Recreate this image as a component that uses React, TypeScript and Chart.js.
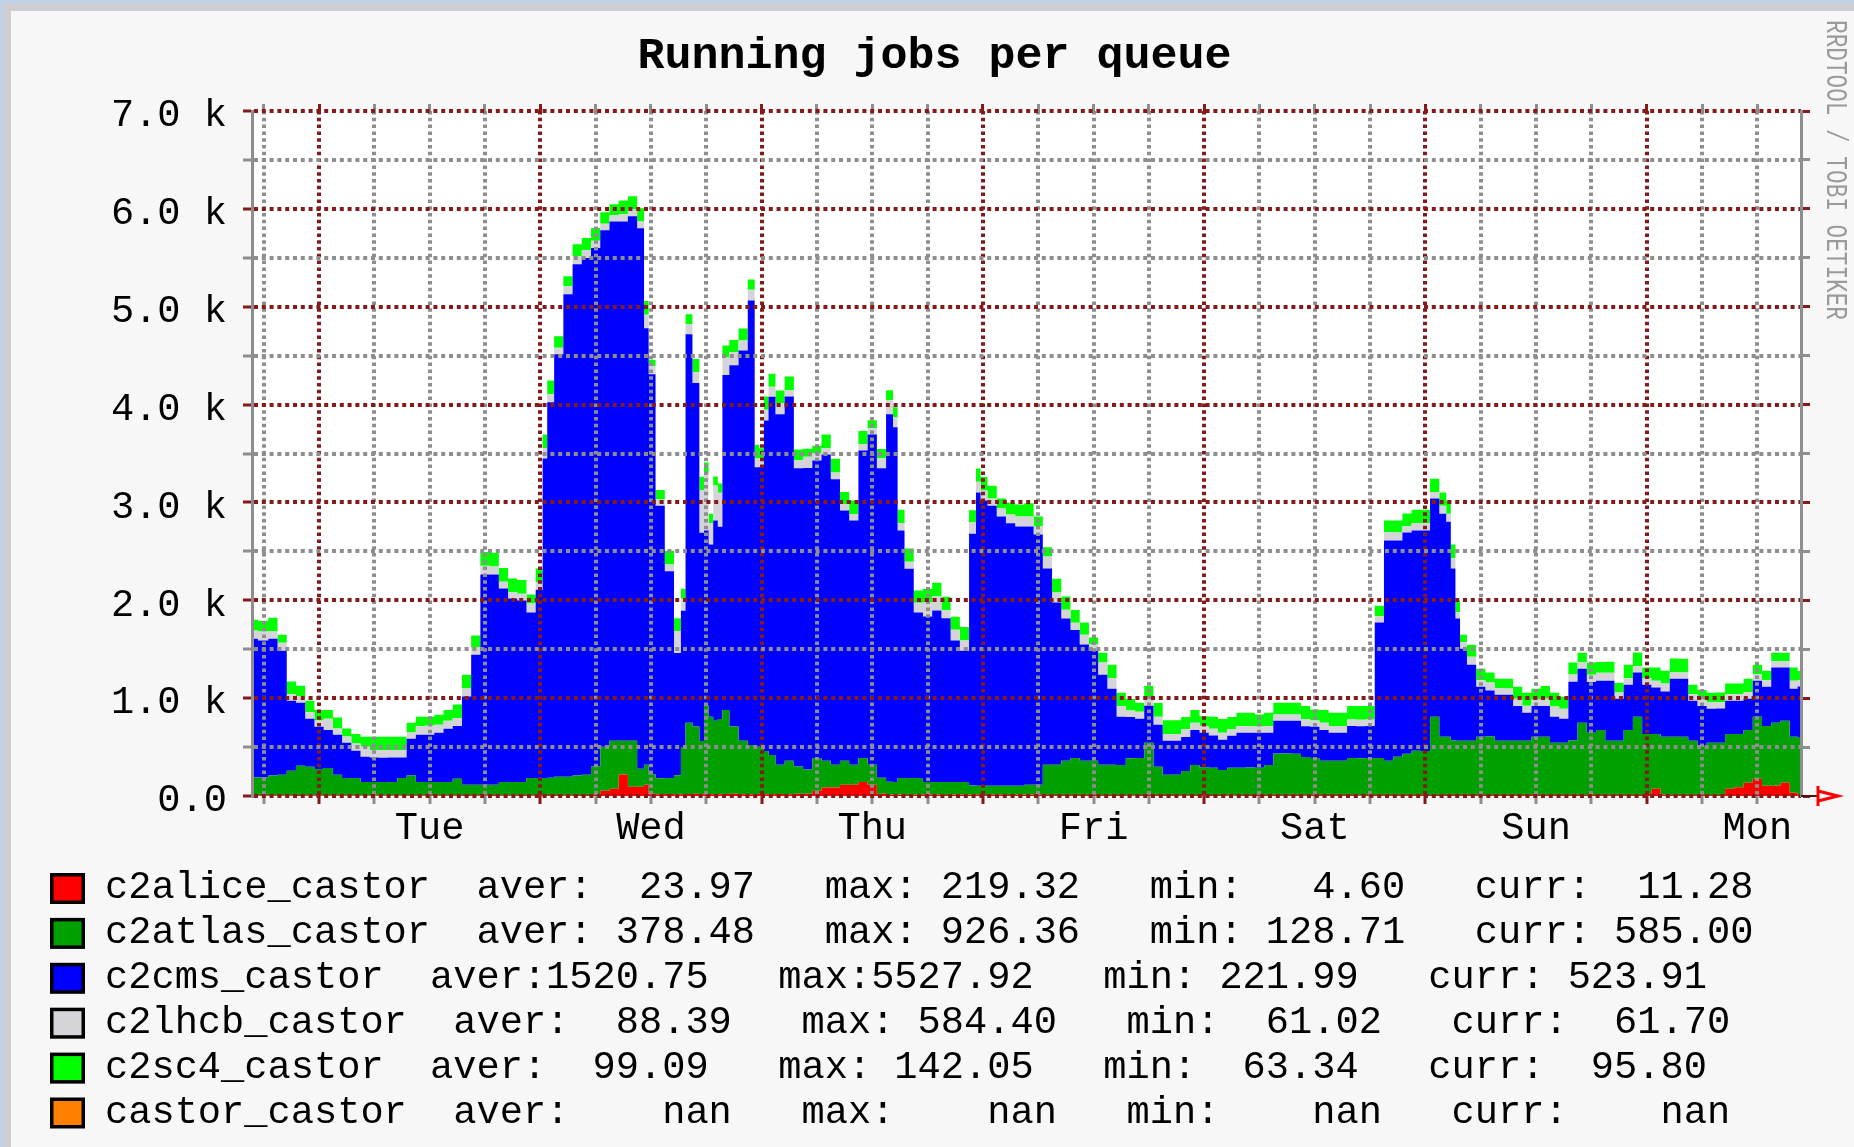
import React, { useEffect, useRef } from 'react';
import { Chart, registerables } from 'chart.js';

Chart.register(...registerables);

const W = 1854;
const H = 1147;

const TITLE = 'Running jobs per queue';
const WATERMARK = 'RRDTOOL / TOBI OETIKER';

// hours relative to Tuesday 00:00
const hours = [
  -7.27, -6, -5, -4, -3, -2, -1, 0, 1, 2,
  3, 4, 5, 6, 7, 8, 9, 10, 11, 12,
  13, 14, 15, 16, 17, 18, 19, 20, 21, 22,
  23, 24, 24.5, 25, 26, 27, 28, 29, 30, 31,
  32, 33, 34, 35, 35.5, 36, 37, 38, 39, 39.5,
  40, 41, 41.5, 42, 42.5, 43, 43.5, 44, 45, 46,
  47, 47.5, 48, 48.5, 49, 50, 51, 52, 53, 54,
  55, 56, 57, 58, 59, 60, 61, 62, 62.5, 63,
  64, 65, 66, 67, 68, 69, 70, 71, 71.5, 72,
  73, 74, 75, 76, 77, 78, 79, 80, 81, 82,
  83, 84, 85, 86, 87, 88, 89, 90, 91, 92,
  93, 94, 95, 96, 97, 98, 99, 100, 101, 102,
  103, 104, 105, 106, 107, 108, 109, 110, 111, 112,
  113, 114, 115, 116, 117, 118, 119, 120, 121, 122,
  122.5, 123, 123.5, 124, 125, 126, 127, 128, 129, 130,
  131, 132, 133, 134, 135, 136, 137, 138, 139, 140,
  141, 142, 143, 144, 145, 146, 147, 148, 149, 150,
  151, 152, 153, 154, 155, 156, 157, 158, 159, 160,
  160.73,
];

const c2alice = [
  8, 8, 7, 7, 8, 9, 8, 7, 8, 8,
  7, 8, 6, 6, 5, 6, 6, 7, 7, 8,
  7, 7, 8, 9, 8, 8, 9, 8, 8, 9,
  8, 9, 8, 10, 9, 8, 9, 9, 12, 53,
  74, 219, 94, 94, 115, 22, 18, 20, 16, 18,
  20, 22, 18, 20, 19, 21, 18, 20, 22, 19,
  18, 20, 22, 18, 17, 20, 19, 22, 24, 53,
  86, 86, 115, 115, 143, 115, 22, 14, 12, 12,
  11, 12, 13, 12, 11, 12, 12, 13, 12, 11,
  12, 12, 11, 12, 13, 12, 10, 11, 10, 9,
  10, 9, 10, 10, 9, 8, 9, 10, 10, 9,
  9, 8, 9, 10, 9, 9, 8, 9, 10, 9,
  9, 10, 10, 9, 8, 9, 9, 10, 9, 9,
  8, 9, 10, 11, 10, 9, 10, 9, 11, 10,
  10, 11, 10, 9, 9, 10, 11, 10, 9, 9,
  10, 9, 9, 10, 9, 11, 10, 10, 9, 10,
  9, 10, 11, 20, 74, 12, 10, 9, 10, 9,
  10, 11, 74, 90, 135, 176, 106, 106, 135, 33,
  11.28,
];

const c2atlas = [
  180, 180, 202, 210, 250, 299, 291, 270, 278, 209,
  176, 176, 137, 137, 137, 137, 178, 202, 136, 136,
  136, 136, 168, 107, 107, 107, 107, 135, 135, 135,
  176, 176, 176, 176, 188, 188, 200, 209, 289, 450,
  491, 346, 471, 184, 204, 197, 164, 164, 197, 483,
  729, 688, 545, 906, 790, 749, 770, 860, 688, 545,
  504, 483, 483, 442, 401, 299, 340, 279, 246, 336,
  274, 233, 245, 204, 246, 204, 164, 131, 131, 172,
  172, 172, 131, 131, 131, 131, 131, 94, 94, 94,
  94, 94, 94, 94, 103, 103, 309, 309, 350, 379,
  350, 350, 309, 309, 309, 379, 379, 534, 289, 207,
  207, 248, 309, 280, 280, 256, 280, 280, 280, 280,
  309, 424, 424, 424, 391, 379, 350, 350, 350, 379,
  379, 379, 379, 350, 391, 424, 452, 452, 800, 596,
  596, 555, 555, 555, 555, 596, 596, 555, 555, 555,
  555, 596, 596, 534, 534, 555, 739, 637, 665, 555,
  555, 665, 800, 614, 560, 594, 596, 596, 555, 501,
  534, 534, 560, 544, 540, 634, 610, 643, 634, 573,
  585,
];

const c2cms = [
  1420, 1400, 1399, 1268, 716, 646, 491, 430, 389, 409,
  360, 278, 258, 250, 250, 250, 209, 376, 483, 483,
  504, 544, 540, 900, 1329, 2148, 2148, 1977, 1874, 1854,
  1690, 1923, 3266, 3838, 4318, 4931, 5225, 5279, 5299, 5279,
  5307, 5307, 5360, 5525, 4460, 4092, 2783, 2112, 1248, 1392,
  3969, 3511, 2128, 1787, 1760, 2046, 1964, 3421, 3691, 3989,
  4542, 2857, 2857, 3376, 3663, 3581, 3724, 3048, 3081, 3040,
  3130, 2918, 2558, 2496, 3142, 3376, 3163, 3757, 3626, 2529,
  2140, 1690, 1690, 1752, 1675, 1445, 1342, 2574, 2996, 2914,
  2861, 2750, 2681, 2648, 2639, 2557, 2005, 1657, 1453, 1309,
  1187, 1125, 921, 778, 491, 421, 401, 377, 429, 348,
  348, 348, 356, 357, 328, 311, 328, 357, 357, 357,
  328, 335, 335, 335, 315, 319, 315, 287, 287, 327,
  327, 327, 1383, 2251, 2210, 2259, 2251, 2251, 2230, 2279,
  2197, 1759, 1248, 941, 777, 511, 470, 470, 470, 356,
  286, 315, 315, 266, 246, 601, 552, 519, 503, 613,
  429, 463, 450, 504, 475, 462, 593, 593, 409, 410,
  348, 348, 340, 340, 319, 368, 401, 565, 545, 491,
  523.91,
];

const c2lhcb = [
  82, 94, 74, 82, 65, 65, 65, 65, 115, 65,
  65, 74, 102, 77, 77, 77, 77, 65, 90, 90,
  81, 82, 80, 82, 74, 90, 82, 69, 65, 69,
  94, 80, 105, 82, 65, 82, 82, 81, 74, 65,
  65, 74, 70, 69, 140, 82, 65, 69, 225, 122,
  102, 110, 437, 584, 217, 356, 348, 180, 135, 103,
  110, 90, 90, 111, 102, 114, 65, 82, 115, 70,
  65, 69, 65, 65, 65, 65, 103, 143, 98, 74,
  70, 102, 143, 143, 80, 110, 103, 115, 110, 102,
  73, 82, 90, 102, 102, 82, 123, 103, 90, 74,
  102, 65, 123, 110, 111, 65, 73, 73, 82, 69,
  69, 81, 74, 65, 69, 70, 69, 69, 69, 65,
  69, 65, 65, 65, 74, 65, 74, 69, 69, 66,
  66, 66, 65, 82, 82, 65, 74, 74, 65, 82,
  82, 105, 65, 65, 82, 65, 82, 65, 65, 73,
  70, 65, 73, 105, 102, 74, 65, 74, 82, 82,
  65, 69, 65, 65, 69, 82, 65, 65, 65, 65,
  65, 65, 65, 65, 65, 65, 65, 65, 65, 81,
  61.7,
];

const c2sc4 = [
  110, 110, 140, 82, 131, 107, 118, 107, 90, 111,
  81, 98, 103, 136, 136, 136, 136, 99, 94, 94,
  103, 111, 140, 140, 123, 140, 140, 140, 140, 140,
  90, 137, 140, 140, 119, 102, 123, 123, 131, 118,
  111, 140, 135, 135, 140, 65, 98, 140, 131, 103,
  103, 135, 135, 110, 98, 94, 94, 122, 123, 122,
  103, 140, 102, 135, 131, 131, 140, 111, 82, 80,
  140, 140, 123, 140, 135, 80, 94, 102, 106, 139,
  135, 123, 140, 140, 140, 135, 140, 123, 135, 140,
  131, 102, 122, 123, 135, 102, 94, 140, 135, 131,
  123, 70, 102, 135, 135, 119, 90, 131, 140, 140,
  140, 123, 131, 102, 123, 140, 123, 135, 135, 123,
  135, 119, 119, 119, 131, 111, 131, 135, 135, 139,
  139, 139, 107, 122, 122, 131, 139, 139, 135, 135,
  135, 140, 119, 78, 123, 119, 102, 99, 99, 123,
  135, 111, 131, 140, 123, 123, 99, 123, 111, 111,
  99, 135, 140, 111, 136, 131, 140, 140, 99, 98,
  99, 99, 111, 111, 140, 99, 99, 86, 86, 135,
  95.8,
];

const seriesNames = ['c2alice_castor', 'c2atlas_castor', 'c2cms_castor', 'c2lhcb_castor', 'c2sc4_castor', 'castor_castor'];
const seriesColors = ['#ff0000', '#00a000', '#0000ff', '#d5d4d8', '#00ff00', '#ff8000'];
const statAver = [23.97, 378.48, 1520.75, 88.39, 99.09, NaN];
const statMax = [219.32, 926.36, 5527.92, 584.40, 142.05, NaN];
const statMin = [4.60, 128.71, 221.99, 61.02, 63.34, NaN];
const statCurr = [11.28, 585.00, 523.91, 61.70, 95.80, NaN];

const dayLabels = ['Tue', 'Wed', 'Thu', 'Fri', 'Sat', 'Sun', 'Mon'];
const xMin = -7.27;
const xMax = 160.73;
const yMax = 7000;

const MAJOR = '#841a1a';
const MINOR = '#8e8e8e';
const AXIS = '#8e8e8e';
const MONO = '"Liberation Mono", "DejaVu Sans Mono", monospace';

function fmt(v: number) {
  const s = isNaN(v) ? 'nan' : v.toFixed(2);
  return s.padStart(7, ' ');
}

function legendLine(i: number) {
  return (
    seriesNames[i] +
    '  aver:' + fmt(statAver[i]) +
    '   max:' + fmt(statMax[i]) +
    '   min:' + fmt(statMin[i]) +
    '   curr:' + fmt(statCurr[i])
  );
}

const xTickHours: number[] = [];
for (let h = -6; h <= 156; h += 6) xTickHours.push(h);

const isDay = (v: number) => ((v % 24) + 24) % 24 === 0;

const decor = {
  id: 'rrdDecor',
  beforeDraw(chart: any) {
    const { ctx, chartArea: a } = chart;
    ctx.save();
    ctx.fillStyle = '#f7f7f7';
    ctx.fillRect(0, 0, W, H);
    ctx.fillStyle = '#cecdd1';
    ctx.fillRect(0, 0, W, 11);
    ctx.fillRect(0, 0, 11, H);
    ctx.fillStyle = '#bed3ea';
    ctx.fillRect(0, 0, W, 3);
    ctx.fillRect(0, 0, 3, H);
    ctx.fillStyle = '#ffffff';
    ctx.fillRect(a.left, a.top, a.right - a.left, a.bottom - a.top);
    ctx.restore();
  },
  afterDraw(chart: any) {
    const { ctx, chartArea: a } = chart;
    ctx.save();
    // title
    ctx.fillStyle = '#000';
    ctx.font = 'bold 45px ' + MONO;
    ctx.textAlign = 'center';
    ctx.textBaseline = 'alphabetic';
    ctx.fillText(TITLE, 934.5, 68);

    // legend
    ctx.textAlign = 'left';
    ctx.font = '38.7px ' + MONO;
    for (let i = 0; i < seriesNames.length; i++) {
      const base = 898 + i * 44.9;
      ctx.fillStyle = '#000';
      ctx.fillRect(50, base - 25, 35, 31);
      ctx.fillStyle = seriesColors[i];
      ctx.fillRect(53.5, base - 21.5, 28, 24);
      ctx.fillStyle = '#000';
      ctx.fillText(legendLine(i), 105, base);
    }

    // x-axis arrow
    const y0 = a.bottom;
    const xr = a.right;
    ctx.strokeStyle = '#4a1414';
    ctx.lineWidth = 2;
    ctx.beginPath();
    ctx.moveTo(xr, y0);
    ctx.lineTo(xr + 16, y0);
    ctx.stroke();
    ctx.strokeStyle = '#ff0000';
    ctx.lineWidth = 3;
    ctx.beginPath();
    ctx.moveTo(xr + 17, y0 - 10);
    ctx.lineTo(xr + 17, y0 + 10);
    ctx.moveTo(xr + 17, y0 - 5);
    ctx.lineTo(xr + 37, y0);
    ctx.lineTo(xr + 17, y0 + 5);
    ctx.stroke();

    // watermark
    ctx.translate(1827, 20);
    ctx.rotate(Math.PI / 2);
    ctx.font = '30px ' + MONO;
    const tw = ctx.measureText(WATERMARK).width;
    ctx.scale(300 / tw, 1);
    ctx.fillStyle = '#9a9a9a';
    ctx.textAlign = 'left';
    ctx.textBaseline = 'alphabetic';
    ctx.fillText(WATERMARK, 0, 0);
    ctx.restore();
  },
};

export default function App() {
  const ref = useRef<HTMLCanvasElement>(null);

  useEffect(() => {
    const canvas = ref.current;
    if (!canvas) return;
    Chart.defaults.font.family = MONO;
    const series = [c2alice, c2atlas, c2cms, c2lhcb, c2sc4];
    const datasets = series.map((vals, i) => ({
      label: seriesNames[i],
      data: hours.map((h, j) => ({ x: h, y: vals[j] })),
      backgroundColor: seriesColors[i],
      borderColor: 'transparent',
      borderWidth: 0,
      pointRadius: 0,
      fill: i === 0 ? 'origin' : '-1',
      stepped: 'middle' as const,
      xAxisID: 'x',
      yAxisID: 'y',
    }));

    const tickFont = { family: MONO, size: 38.7 };

    const chart = new Chart(canvas, {
      type: 'line',
      data: { datasets: datasets as any },
      options: {
        responsive: false,
        animation: false,
        devicePixelRatio: 1,
        events: [],
        layout: { padding: { top: 104, left: 0, right: 0, bottom: 0 } },
        plugins: {
          legend: { display: false },
          title: { display: false },
          tooltip: { enabled: false },
        },
        scales: {
          x: {
            type: 'linear',
            min: xMin,
            max: xMax,
            afterBuildTicks: (s: any) => {
              s.ticks = xTickHours.map((v) => ({ value: v }));
            },
            afterFit: (s: any) => {
              s.height = H - 796;
            },
            ticks: {
              autoSkip: false,
              maxRotation: 0,
              minRotation: 0,
              padding: 2,
              color: '#000',
              font: tickFont,
              callback: (v: any) => {
                const n = Number(v);
                if (((n % 24) + 24) % 24 === 12) {
                  return dayLabels[Math.round((n - 12) / 24)] || '';
                }
                return '';
              },
            },
            grid: {
              z: 1,
              lineWidth: 4,
              color: (c: any) => (c.tick && isDay(c.tick.value) ? MAJOR : MINOR),
              drawTicks: true,
              tickLength: 8,
              tickWidth: 3,
              tickColor: (c: any) => (c.tick && isDay(c.tick.value) ? MAJOR : MINOR),
            },
            border: { display: false, dash: [3.5, 3.3] },
          },
          xTop: {
            type: 'linear',
            position: 'top',
            min: xMin,
            max: xMax,
            afterBuildTicks: (s: any) => {
              s.ticks = xTickHours.map((v) => ({ value: v }));
            },
            afterFit: (s: any) => {
              s.height = 7;
            },
            ticks: { display: false },
            grid: {
              z: 1,
              drawOnChartArea: false,
              drawTicks: true,
              tickLength: 7,
              tickWidth: 3,
              tickColor: (c: any) => (c.tick && isDay(c.tick.value) ? MAJOR : MINOR),
            },
            border: { display: false },
          },
          y: {
            type: 'linear',
            position: 'left',
            stacked: true,
            min: 0,
            max: yMax,
            afterFit: (s: any) => {
              s.width = 252;
            },
            ticks: {
              stepSize: 500,
              autoSkip: false,
              padding: 16,
              labelOffset: 5,
              color: '#000',
              font: tickFont,
              callback: (v: any) => {
                const n = Number(v);
                if (n === 0) return '0.0';
                if (n % 1000 === 0) return (n / 1000).toFixed(1) + ' k';
                return '';
              },
            },
            grid: {
              z: 1,
              lineWidth: 4,
              color: (c: any) => (c.tick && c.tick.value % 1000 === 0 ? MAJOR : MINOR),
              drawTicks: true,
              tickLength: 9,
              tickWidth: 3,
              tickColor: (c: any) => (c.tick && c.tick.value % 1000 === 0 ? MAJOR : MINOR),
            },
            border: { display: true, color: AXIS, width: 3, dash: [4, 3.8], z: 1 },
          },
          yR: {
            type: 'linear',
            position: 'right',
            min: 0,
            max: yMax,
            afterFit: (s: any) => {
              s.width = W - 1801;
            },
            ticks: { stepSize: 500, display: false },
            grid: {
              z: 1,
              drawOnChartArea: false,
              drawTicks: true,
              tickLength: 9,
              tickWidth: 3,
              tickColor: (c: any) => (c.tick && c.tick.value % 1000 === 0 ? MAJOR : MINOR),
            },
            border: { display: true, color: AXIS, width: 3, z: 1 },
          },
        },
      } as any,
      plugins: [decor],
    });

    return () => chart.destroy();
  }, []);

  return (
    <div style={{ position: 'absolute', left: 0, top: 0, width: W, height: H, overflow: 'hidden' }}>
      <canvas ref={ref} width={W} height={H} style={{ display: 'block', width: W, height: H }} />
    </div>
  );
}
